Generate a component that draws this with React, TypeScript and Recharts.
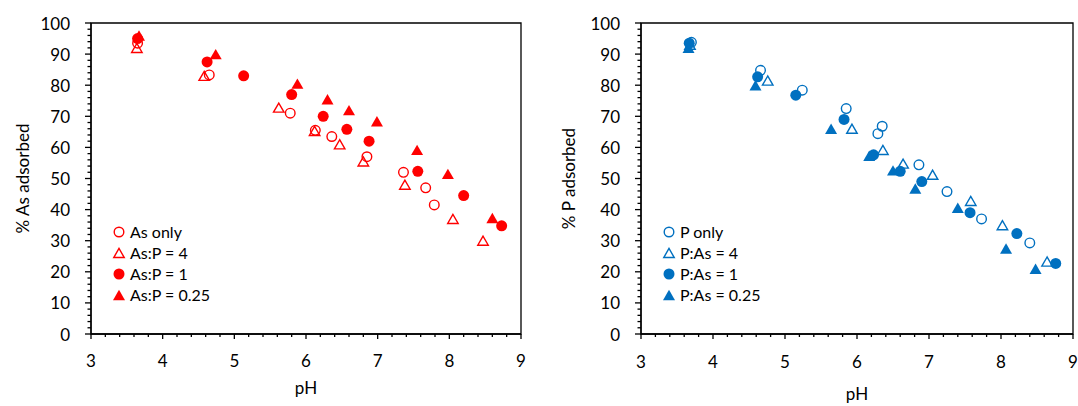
import React from 'react'
import { ScatterChart, Scatter, XAxis, YAxis, ReferenceArea, Legend } from 'recharts'

const RED = '#FF0000'
const BLUE = '#0070C0'
const FONT = 'Lato, "Noto Sans", sans-serif'

// pH vs % As adsorbed
const asOnly = [[3.65, 93.5], [4.65, 83.3], [5.78, 71], [6.13, 65.5], [6.36, 63.5], [6.85, 57], [7.36, 52], [7.67, 47], [7.79, 41.5]]
const asP4 = [[3.64, 92], [4.58, 83], [5.62, 72.8], [6.12, 65.3], [6.47, 61], [6.8, 55.5], [7.38, 48], [8.05, 37], [8.47, 30]]
const asP1 = [[3.65, 95], [4.62, 87.5], [5.13, 83], [5.8, 77], [6.24, 70], [6.57, 65.8], [6.88, 62], [7.56, 52.3], [8.2, 44.5], [8.73, 34.8]]
const asP025 = [[3.67, 96], [4.74, 90], [5.88, 80.5], [6.3, 75.5], [6.6, 72], [6.99, 68.4], [7.55, 59.2], [7.98, 51.5], [8.6, 37.3]]

// pH vs % P adsorbed
const pOnly = [[3.7, 93.8], [4.66, 84.8], [5.24, 78.4], [5.85, 72.5], [6.29, 64.4], [6.35, 66.8], [6.86, 54.4], [7.25, 45.8], [7.73, 37], [8.4, 29.3]]
const pAs4 = [[3.68, 93], [4.76, 81.5], [5.93, 66], [6.36, 59.2], [6.64, 54.8], [7.05, 51.2], [7.58, 42.8], [8.02, 35], [8.64, 23.3]]
const pAs1 = [[3.67, 93.5], [4.62, 82.7], [5.15, 76.8], [5.82, 69], [6.23, 57.6], [6.6, 52.3], [6.9, 49], [7.57, 39], [8.22, 32.3], [8.76, 22.7]]
const pAs025 = [[3.66, 92], [4.59, 80], [5.64, 66], [6.17, 57.3], [6.5, 52.6], [6.81, 46.8], [7.4, 40.6], [8.07, 27.5], [8.48, 21]]

const asLabels = ['As only', 'As:P = 4', 'As:P = 1', 'As:P = 0.25']
const pLabels = ['P only', 'P:As = 4', 'P:As = 1', 'P:As = 0.25']
const kinds = ['openCircle', 'openTri', 'circle', 'tri']

// minor ticks every 0.2 pH / 2 %
const xTicks = Array.from({ length: 31 }, (_, i) => Math.round((3 + i * 0.2) * 10) / 10)
const yTicks = Array.from({ length: 51 }, (_, i) => i * 2)

const toPoints = (arr: number[][]) => arr.map(([x, y]) => ({ x, y }))

function Marker({ cx, cy, kind, color }: { cx: number; cy: number; kind: string; color: string }) {
  if (cx == null || cy == null) return null
  if (kind === 'circle') return <circle cx={cx} cy={cy} r={5.5} fill={color} />
  if (kind === 'openCircle') return <circle cx={cx} cy={cy} r={4.8} fill="none" stroke={color} strokeWidth={1.4} />
  const s = kind === 'tri' ? 12 : 10.5
  const h = s * 0.866
  const pts = `${cx},${cy - h / 2} ${cx - s / 2},${cy + h / 2} ${cx + s / 2},${cy + h / 2}`
  if (kind === 'tri') return <polygon points={pts} fill={color} />
  return <polygon points={pts} fill="none" stroke={color} strokeWidth={1.4} strokeLinejoin="miter" />
}

const makeXTick = (labelDy: number) => (props: any) => {
  const { x, y, payload } = props
  const v = payload.value
  const major = Math.abs(v - Math.round(v)) < 1e-6
  return (
    <g>
      <line x1={x} y1={y} x2={x} y2={y + (major ? 5 : 3)} stroke="#000" strokeWidth={1.3} />
      {major && (
        <text x={x} y={y + labelDy} textAnchor="middle" dominantBaseline="central" fontSize={17} fill="#000" fontFamily={FONT}>
          {Math.round(v)}
        </text>
      )}
    </g>
  )
}

const YTick = (props: any) => {
  const { x, y, payload } = props
  const v = payload.value
  const major = v % 10 === 0
  return (
    <g>
      <line x1={x} y1={y} x2={x - (major ? 6 : 3.5)} y2={y} stroke="#000" strokeWidth={1.3} />
      {major && (
        <text x={x - 21} y={y} textAnchor="end" dominantBaseline="central" fontSize={17} fill="#000" fontFamily={FONT}>
          {v}
        </text>
      )}
    </g>
  )
}

function Panel({ sets, labels, color, yTitle, yTitleX, width, right, tickDy, phY }: any) {
  return (
    <ScatterChart width={width} height={406} margin={{ top: 23, right, bottom: 22, left: 0 }}>
      <XAxis
        type="number"
        dataKey="x"
        domain={[3, 9]}
        ticks={xTicks}
        interval={0}
        tickSize={0}
        tickMargin={0}
        tick={makeXTick(tickDy)}
        tickLine={false}
        axisLine={{ stroke: '#000', strokeWidth: 1.3 }}
        height={50}
        label={{
          content: ({ viewBox }: any) => (
            <text x={viewBox.x + viewBox.width / 2} y={phY} textAnchor="middle" dominantBaseline="central" fontSize={17} fill="#000" fontFamily={FONT}>
              pH
            </text>
          ),
        }}
      />
      <YAxis
        type="number"
        dataKey="y"
        domain={[0, 100]}
        ticks={yTicks}
        interval={0}
        tickSize={0}
        tickMargin={0}
        tick={YTick}
        tickLine={false}
        axisLine={{ stroke: '#000', strokeWidth: 1.3 }}
        width={91}
        label={{
          content: () => (
            <text x={yTitleX} y={178.5} transform={`rotate(-90 ${yTitleX} 178.5)`} textAnchor="middle" dominantBaseline="central" fontSize={17} fill="#000" fontFamily={FONT}>
              {yTitle}
            </text>
          ),
        }}
      />
      <ReferenceArea x1={3} x2={9} y1={0} y2={100} fill="none" stroke="#000" strokeWidth={1.3} />
      {sets.map((d: number[][], i: number) => (
        <Scatter
          key={labels[i]}
          name={labels[i]}
          data={toPoints(d)}
          isAnimationActive={false}
          shape={(p: any) => <Marker cx={p.cx} cy={p.cy} kind={kinds[i]} color={color} />}
        />
      ))}
      <Legend
        layout="vertical"
        align="center"
        verticalAlign="middle"
        wrapperStyle={{ left: 112, top: 221, width: 160, height: 84 }}
        content={() => (
          <div style={{ fontFamily: FONT, fontSize: 16, color: '#000' }}>
            {labels.map((lab: string, i: number) => (
              <div key={lab} style={{ display: 'flex', alignItems: 'center', height: 21 }}>
                <svg width={14} height={14} style={{ marginRight: 4 }}>
                  <Marker cx={7} cy={7} kind={kinds[i]} color={color} />
                </svg>
                <span>{lab}</span>
              </div>
            ))}
          </div>
        )}
      />
    </ScatterChart>
  )
}

export default function App() {
  return (
    <div style={{ position: 'absolute', left: 0, top: 0, width: 1078, height: 406, background: '#fff', fontFamily: FONT }}>
      <div style={{ position: 'absolute', left: 0, top: 0 }}>
        <Panel sets={[asOnly, asP4, asP1, asP025]} labels={asLabels} color={RED} yTitle="% As adsorbed" yTitleX={22} width={540} right={19} tickDy={26} phY={387} />
      </div>
      <div style={{ position: 'absolute', left: 550, top: 0 }}>
        <Panel sets={[pOnly, pAs4, pAs1, pAs025]} labels={pLabels} color={BLUE} yTitle="% P adsorbed" yTitleX={18} width={528} right={5} tickDy={27} phY={393} />
      </div>
    </div>
  )
}
